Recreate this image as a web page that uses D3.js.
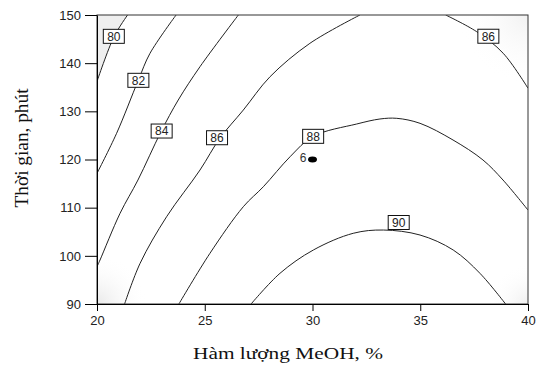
<!DOCTYPE html>
<html>
<head>
<meta charset="utf-8">
<script src="https://cdn.jsdelivr.net/npm/d3@7"></script>
<style>
  body { margin: 0; background: #fff; }
  svg { display: block; }
</style>
</head>
<body>
<svg id="chart" width="541" height="365"></svg>
<script>
// contour lines: [MeOH %, time min]
const line80 = [[21.42, 150], [20.79, 145.5], [20, 136.2]];
const line82 = [[23.67, 150], [22.46, 142.05], [21.92, 136.5], [20.91, 125.44], [20, 117.13]];
const line84 = [[26.56, 150], [24.78, 139.27], [23.77, 132.35], [22.97, 125.77], [21.9, 115.74], [21.07, 108.83], [20.14, 99.13], [20, 97.74]];
const line86a = [[32.2, 150], [29.88, 144.12], [28.03, 137.19], [26.79, 130.27], [25.7, 124.4], [24.78, 117.82], [23.23, 108.12], [22.0, 98.45], [21.28, 90]];
const line86b = [[36.18, 150], [37.62, 146.53], [38.85, 142.05], [40, 134.8]];
const line88 = [[23.8, 90], [25.24, 100.52], [26.79, 110.2], [27.72, 114.35], [28.96, 120.58], [30.03, 124.81], [32.05, 127.37], [33.13, 128.41], [33.91, 128.55], [34.99, 127.51], [36.52, 124.05], [37.91, 119.9], [38.84, 115.74], [40, 109.5]];
const line90 = [[27.15, 90], [28.49, 96.37], [30.04, 101.21], [31.89, 104.68], [33.29, 105.36], [34.99, 104.32], [36.53, 101.21], [37.77, 96.37], [38.96, 90]];

const contours = [line80, line82, line84, line86a, line86b, line88, line90];
const levelLabels = [
  { text: "80", x: 20.78, y: 145.57 },
  { text: "82", x: 21.92, y: 136.44 },
  { text: "84", x: 23.0, y: 125.91 },
  { text: "86", x: 25.57, y: 124.52 },
  { text: "88", x: 30.03, y: 124.81 },
  { text: "86", x: 38.16, y: 145.59 },
  { text: "90", x: 34.0, y: 106.92 }
];
const designPoints = [{ x: 30, y: 120, label: "6" }];

const xTicks = [20, 25, 30, 35, 40];
const yTicks = [90, 100, 110, 120, 130, 140, 150];

const margin = { top: 15, right: 13, bottom: 61, left: 97 };
const width = 541, height = 365;

const svg = d3.select("#chart");
const x = d3.scaleLinear().domain([20, 40]).range([margin.left, width - margin.right]);
const y = d3.scaleLinear().domain([90, 150]).range([height - margin.bottom, margin.top]);

const defs = svg.append("defs");
defs.append("clipPath").attr("id", "plot-clip")
  .append("rect")
  .attr("x", x(20)).attr("y", y(150))
  .attr("width", x(40) - x(20)).attr("height", y(90) - y(150));

// soft gray in the corners
const corners = [
  { id: "g-bl", cx: 20, cy: 90, r: 50, c: "#e9e9e9" },
  { id: "g-br", cx: 40, cy: 90, r: 40, c: "#efefef" },
  { id: "g-tr", cx: 40, cy: 150, r: 70, c: "#f1f1f1" }
];
corners.forEach(c => {
  const g = defs.append("radialGradient").attr("id", c.id);
  g.append("stop").attr("offset", "0%").attr("stop-color", c.c);
  g.append("stop").attr("offset", "100%").attr("stop-color", "#fff").attr("stop-opacity", 0);
});

const plot = svg.append("g").attr("clip-path", "url(#plot-clip)");

plot.selectAll(".corner")
  .data(corners)
  .enter()
  .append("circle")
  .attr("class", "corner")
  .attr("cx", d => x(d.cx))
  .attr("cy", d => y(d.cy))
  .attr("r", d => d.r)
  .attr("fill", d => `url(#${d.id})`);

const line = d3.line()
  .x(d => x(d[0]))
  .y(d => y(d[1]))
  .curve(d3.curveCatmullRom.alpha(0.5));

// region beyond the 80 line
plot.append("path")
  .attr("d", line(line80) + `L${x(20)},${y(150)}Z`)
  .attr("fill", "#efefef");

plot.selectAll(".contour")
  .data(contours)
  .enter()
  .append("path")
  .attr("class", "contour")
  .attr("d", line)
  .attr("fill", "none")
  .attr("stroke", "#222")
  .attr("stroke-width", 1);

// frame
svg.append("rect")
  .attr("x", x(20)).attr("y", y(150))
  .attr("width", x(40) - x(20)).attr("height", y(90) - y(150))
  .attr("fill", "none")
  .attr("stroke", "#333")
  .attr("stroke-width", 1);

// level labels
const lab = svg.selectAll(".lvl")
  .data(levelLabels)
  .enter()
  .append("g")
  .attr("class", "lvl")
  .attr("transform", d => `translate(${x(d.x)},${y(d.y)})`);
lab.append("rect")
  .attr("x", -10.5).attr("y", -7)
  .attr("width", 21).attr("height", 14)
  .attr("fill", "#fff")
  .attr("stroke", "#111")
  .attr("stroke-width", 1);
lab.append("text")
  .attr("text-anchor", "middle")
  .attr("dy", "0.36em")
  .attr("font-family", "Arial, 'Liberation Sans', sans-serif")
  .attr("font-size", 12)
  .attr("fill", "#222")
  .text(d => d.text);

// design point
svg.selectAll(".dp")
  .data(designPoints)
  .enter()
  .append("ellipse")
  .attr("class", "dp")
  .attr("cx", d => x(d.x))
  .attr("cy", d => y(d.y))
  .attr("rx", 4.5).attr("ry", 3)
  .attr("fill", "#000");
svg.selectAll(".dpl")
  .data(designPoints)
  .enter()
  .append("text")
  .attr("class", "dpl")
  .attr("x", d => x(d.x) - 6)
  .attr("y", d => y(d.y) - 2)
  .attr("text-anchor", "end")
  .attr("dy", "0.36em")
  .attr("font-family", "Arial, 'Liberation Sans', sans-serif")
  .attr("font-size", 12)
  .attr("fill", "#333")
  .text(d => d.label);

// axes
const xAxis = svg.append("g")
  .attr("transform", `translate(0,${y(90)})`)
  .call(d3.axisBottom(x).tickValues(xTicks).tickSize(7).tickSizeOuter(0));
const yAxis = svg.append("g")
  .attr("transform", `translate(${x(20)},0)`)
  .call(d3.axisLeft(y).tickValues(yTicks).tickSize(12).tickSizeOuter(0));
[xAxis, yAxis].forEach(a => {
  a.select(".domain").attr("stroke", "#000");
  a.selectAll(".tick line").attr("stroke", "#000");
  a.selectAll(".tick text")
    .attr("font-family", "Arial, 'Liberation Sans', sans-serif")
    .attr("font-size", 13)
    .attr("fill", "#222");
});
xAxis.selectAll(".tick text").attr("y", 12);
yAxis.selectAll(".tick text").attr("x", -16);

// axis titles
svg.append("text")
  .attr("x", 288)
  .attr("y", 359)
  .attr("text-anchor", "middle")
  .attr("font-family", "'Times New Roman', 'Liberation Serif', serif")
  .attr("font-size", 17)
  .attr("textLength", 190)
  .attr("lengthAdjust", "spacingAndGlyphs")
  .attr("fill", "#111")
  .text("Hàm lượng MeOH, %");

svg.append("text")
  .attr("transform", "translate(28,148) rotate(-90)")
  .attr("text-anchor", "middle")
  .attr("font-family", "'Times New Roman', 'Liberation Serif', serif")
  .attr("font-size", 18)
  .attr("textLength", 119)
  .attr("lengthAdjust", "spacingAndGlyphs")
  .attr("fill", "#111")
  .text("Thời gian, phút");
</script>
</body>
</html>
